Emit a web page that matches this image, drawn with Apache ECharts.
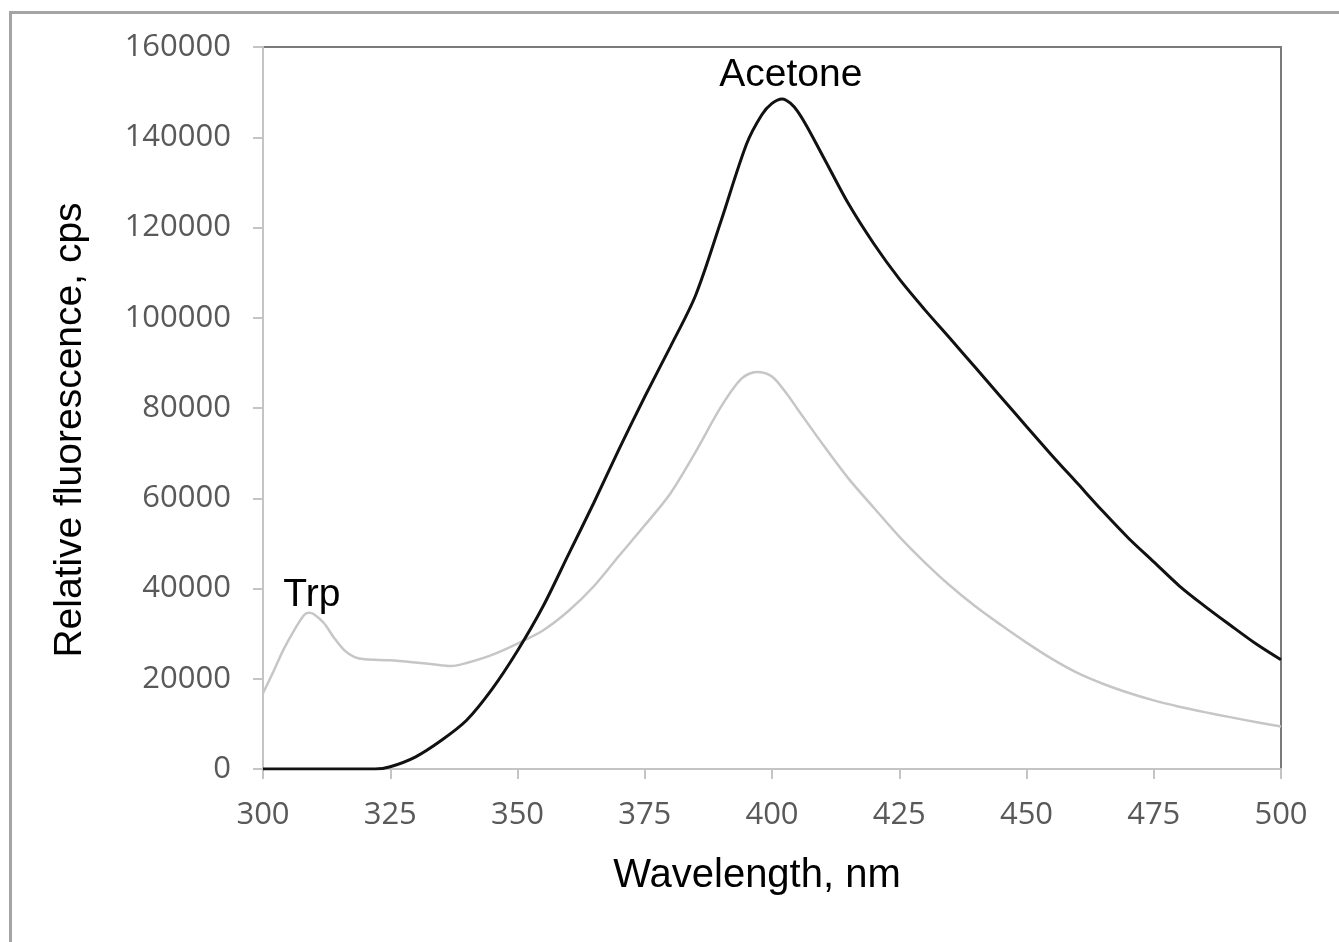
<!DOCTYPE html>
<html>
<head>
<meta charset="utf-8">
<script src="https://cdn.jsdelivr.net/npm/echarts@6/dist/echarts.min.js"></script>
<style>
html,body{margin:0;padding:0;background:#fff;}
#chart{width:1339px;height:942px;}
</style>
</head>
<body>
<div id="chart"></div>
<script>
// Wavelength ticks
var xTicks = [300, 325, 350, 375, 400, 425, 450, 475, 500];
var yTicks = [0, 20000, 40000, 60000, 80000, 100000, 120000, 140000, 160000];

// Acetone (black) spectrum
var acetoneNm  = [300,305,310,315,320,322,325,330,335,340,345,350,355,360,365,370,375,380,385,390,395,398,400,402,405,410,415,420,425,430,435,440,445,450,455,460,465,470,475,480,485,490,495,500];
var acetoneCps = [0,0,0,0,0,0,500,2700,6300,10800,17700,26200,36000,47500,59000,71000,82500,93500,105000,121500,138500,145000,147500,148500,145800,135800,125300,116400,108600,101800,95400,88900,82400,75900,69500,63300,57100,51200,45900,40600,36100,31900,27800,24200];

// Trp sample (gray) spectrum
var trpNm  = [300,302,304,306,308,309,310,312,314,316,318,320,325,330,335,337,340,345,350,355,360,365,370,375,380,385,390,394,397,400,403,405,410,415,420,425,430,435,440,445,450,455,460,465,470,475,480,485,490,495,500];
var trpCps = [16800,21500,26400,30500,34000,34600,34300,32300,29000,26300,24800,24300,24100,23600,23000,22800,23500,25300,27800,30700,35000,40500,47300,54000,61000,70300,80300,86500,88000,87000,83000,79800,71900,64400,57900,51500,45800,40600,36000,31900,28000,24400,21300,18900,16900,15200,13800,12600,11500,10400,9400];

// Annotations (data coordinates)
var annText = ['Acetone', 'Trp'];
var annNm   = [403.7, 309.6];
var annCps  = [153800, 38500];

function pairs(xs, ys){ return xs.map(function(x,i){ return [x, ys[i]]; }); }

var chart = echarts.init(document.getElementById('chart'));
var labelFont = '"Open Sans", sans-serif';
var titleFont = '"Liberation Sans", Arial, sans-serif';

chart.setOption({
  backgroundColor: '#fff',
  animation: false,
  grid: {
    left: 263, top: 47, right: 58, bottom: 173,
    show: true, borderColor: '#7a7a7a', borderWidth: 2, backgroundColor: 'transparent'
  },
  xAxis: {
    type: 'value', min: xTicks[0], max: xTicks[xTicks.length-1], interval: 25,
    axisLine: { show: true, lineStyle: { color: '#c4c4c4', width: 2 } },
    axisTick: { show: true, length: 10, lineStyle: { color: '#c4c4c4', width: 2 } },
    axisLabel: { margin: 31, fontFamily: labelFont, fontSize: 31, color: '#595959' },
    splitLine: { show: false }
  },
  yAxis: {
    type: 'value', min: yTicks[0], max: yTicks[yTicks.length-1], interval: 20000,
    axisLine: { show: true, lineStyle: { color: '#c4c4c4', width: 2 } },
    axisTick: { show: true, length: 10, lineStyle: { color: '#c4c4c4', width: 2 } },
    axisLabel: { margin: 32, fontFamily: labelFont, fontSize: 31, color: '#595959',
                 formatter: function(v){ return String(v); } },
    splitLine: { show: false }
  },
  series: [
    {
      name: 'Trp', type: 'line', data: pairs(trpNm, trpCps),
      showSymbol: false, smooth: 0.3, z: 2,
      lineStyle: { color: '#c6c6c6', width: 2.5 }
    },
    {
      name: 'Acetone', type: 'line', data: pairs(acetoneNm, acetoneCps),
      showSymbol: false, smooth: 0.3, z: 3,
      lineStyle: { color: '#111', width: 3 }
    }
  ]
});

var g = [{
  type: 'rect', left: 8, top: 10, z: 100, silent: true,
  shape: { width: 1400, height: 1000 },
  style: { fill: 'none', stroke: '#a4a4a4', lineWidth: 3 }
}, {
  type: 'text', x: 70, y: 430, rotation: Math.PI / 2, z: 100,
  style: { text: 'Relative fluorescence, cps', fontFamily: titleFont, fontSize: 39, fill: '#000', align: 'center', verticalAlign: 'middle' }
}, {
  type: 'text', x: 757, y: 876, z: 100,
  style: { text: 'Wavelength, nm', fontFamily: titleFont, fontSize: 40, fill: '#000', align: 'center', verticalAlign: 'middle' }
}];
annText.forEach(function(t, i){
  var p = chart.convertToPixel({gridIndex: 0}, [annNm[i], annCps[i]]);
  g.push({
    type: 'text', x: p[0], y: p[1], z: 100,
    style: { text: t, fontFamily: titleFont, fontSize: 39, fill: '#000', align: 'center', verticalAlign: 'middle' }
  });
});
chart.setOption({ graphic: g });
</script>
</body>
</html>
